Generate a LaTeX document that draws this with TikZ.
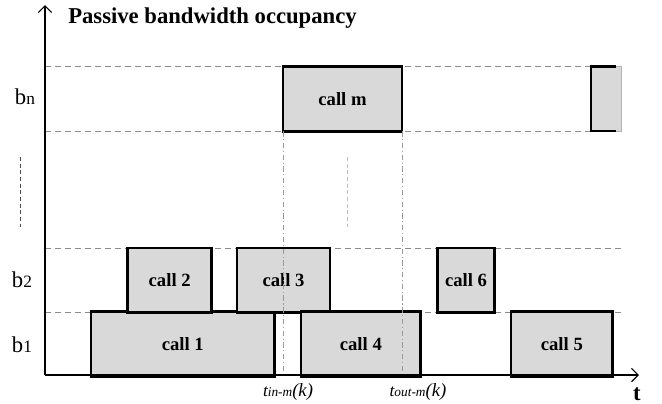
\documentclass[tikz,border=0pt]{standalone}
\usepackage{fontspec}
\setmainfont{Liberation Serif}
\usetikzlibrary{arrows.meta}

\tikzset{
  callbox/.style={draw=black, line width=2.2pt, fill=black!15, inner sep=0pt, outer sep=0pt,
    minimum height=48.5pt, font=\bfseries\fontsize{14}{16}\selectfont},
  level/.style={draw=black!45, dash pattern=on 4.5pt off 3pt, line width=0.7pt},
  guide/.style={draw=black!40, dash pattern=on 4pt off 2pt on 0.8pt off 2pt, line width=0.5pt},
  axis/.style={line width=0.8pt, -{Straight Barb[length=5pt,width=10pt,line width=0.8pt]}},
  blabel/.style={inner sep=0pt, font=\fontsize{17}{19}\selectfont},
  tlabel/.style={inner sep=0pt, font=\itshape\fontsize{13}{15}\selectfont},
}

\begin{document}
\begin{tikzpicture}[x=0.75pt,y=0.75pt,yscale=-1,xscale=1]
\useasboundingbox (0,0) rectangle (662,404);

% axes
\coordinate (O) at (45,375);
\coordinate (ytop) at (45,5);
\coordinate (xend) at (639,375);

%Dashed levels
\draw[level] (45,66.7) -- (621,66.7);
\draw[level] (45,131) -- (591,131);
\draw[level] (45,248) -- (621,248);
\draw[level] (45,312.7) -- (621,312.7);

%Vertical dots
\draw[draw=black!70, dash pattern=on 3pt off 2pt, line width=0.6pt] (20.7,157) -- (20.7,227);
\draw[draw=black!25, dash pattern=on 3pt off 2pt, line width=0.6pt] (347,157) -- (347,227);

% calls
\node[callbox, minimum width=137.6pt] (call1) at (182.75,343.85) {call 1};
\node[callbox, minimum width=63pt] (call2) at (169.7,280.35) {call 2};
\node[callbox, minimum width=69.75pt] (call3) at (283.5,280.35) {call 3};
\node[callbox, minimum width=89.8pt] (call4) at (360.85,343.85) {call 4};
\node[callbox, minimum width=42.5pt] (call6) at (466,280.35) {call 6};
\node[callbox, minimum width=76.3pt] (call5) at (561.85,343.85) {call 5};
\node[callbox, minimum width=89.25pt] (callm) at (342.5,98.85) {call m};

% cut box on the right
\draw[draw=black!30, fill=black!15, line width=0.6pt] (591,66.7) rectangle (621,131);
\draw[line width=2.2pt] (616,66.7) -- (591,66.7) -- (591,131) -- (616,131);

% in/out times
\draw[guide] (callm.south west) -- (callm.south west |- O);
\draw[guide] (callm.south east) -- (callm.south east |- O);

\draw[axis] (O) -- (ytop);
\draw[axis] (O) -- (xend);

% Text Node
\node[anchor=base west, inner sep=0pt, font=\bfseries\fontsize{17}{19}\selectfont] (title) at (68,23.5) {Passive bandwidth occupancy};
% Text Node
\node[blabel] (bn) at (25,97) {b{\fontsize{13}{15}\selectfont n}};
\node[blabel] (b2) at (22,280) {b{\fontsize{13}{15}\selectfont 2}};
\node[blabel] (b1) at (22,345) {b{\fontsize{13}{15}\selectfont 1}};
% Text Node
\node[tlabel] (tin) at (288,392) {t{\fontsize{10}{12}\selectfont in-m}{\fontsize{14}{16}\selectfont (k)}};
\node[tlabel] (tout) at (418,392) {t{\fontsize{10}{12}\selectfont out-m}{\fontsize{14}{16}\selectfont (k)}};
\node[inner sep=0pt, font=\bfseries\fontsize{17}{19}\selectfont] (t) at (637,394) {t};

\end{tikzpicture}
\end{document}
